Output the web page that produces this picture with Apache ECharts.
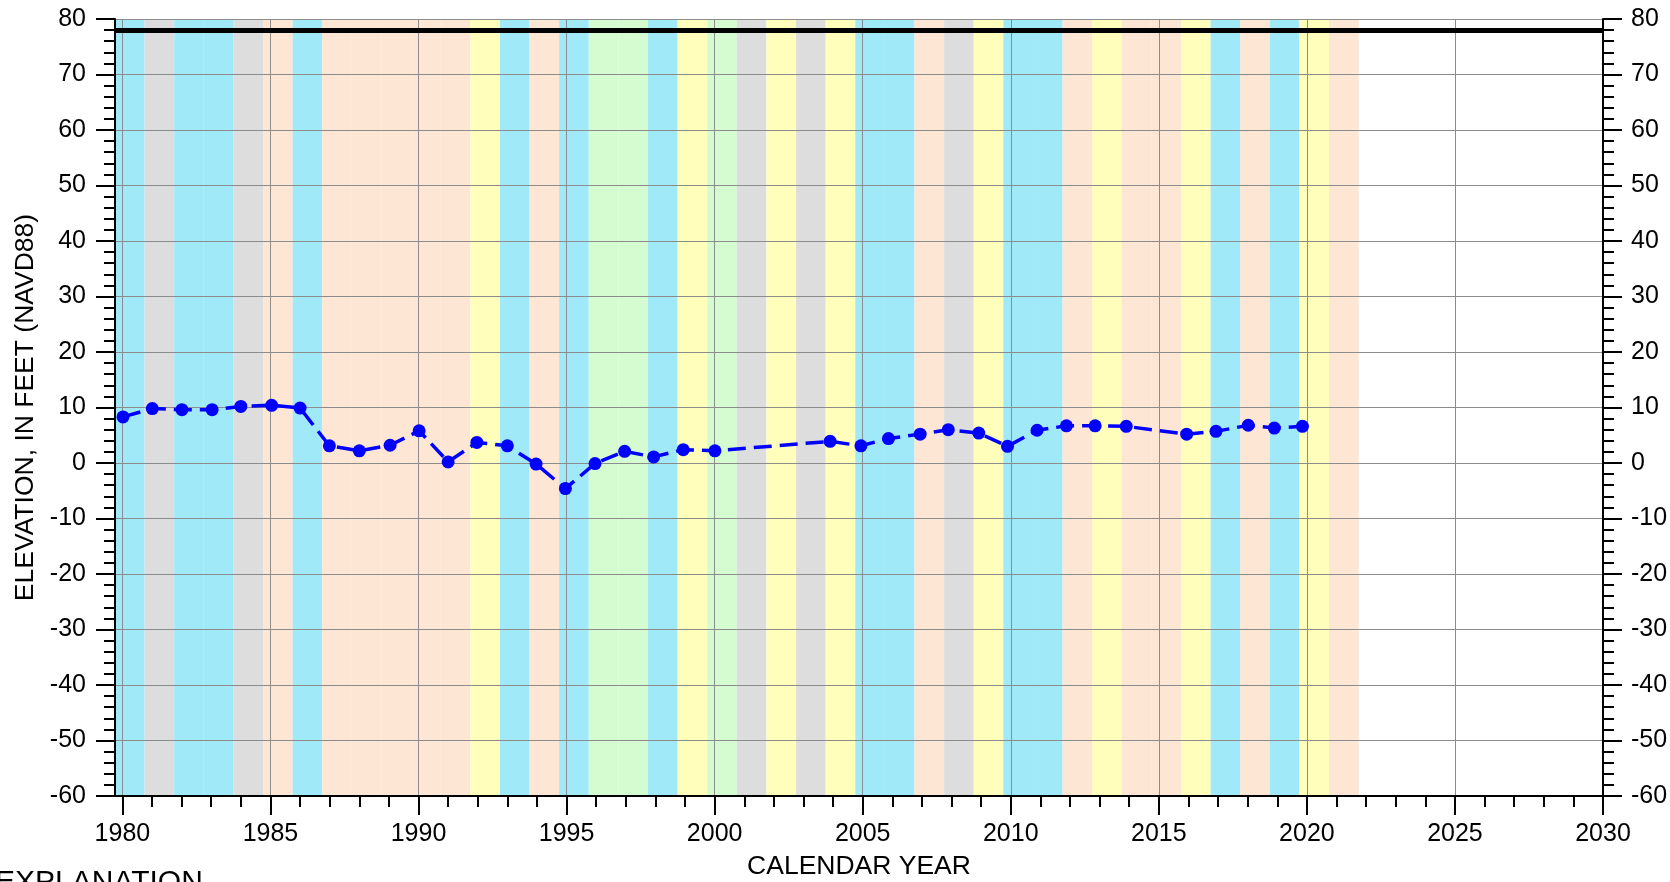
<!DOCTYPE html>
<html>
<head>
<meta charset="utf-8">
<script src="https://cdn.jsdelivr.net/npm/echarts@6/dist/echarts.min.js"></script>
<style>html,body{margin:0;padding:0;background:#fff;overflow:hidden}#chart{width:1670px;height:882px}</style>
</head>
<body>
<div id="chart"></div>
<script>
// ---- Data ----
const measYears = [1980.02, 1981.01, 1982.01, 1983.03, 1984.00, 1985.04, 1986.00, 1986.99, 1988.00, 1989.04,
  1990.02, 1991.00, 1991.97, 1993.00, 1993.97, 1994.96, 1995.96, 1996.96, 1997.94, 1998.94,
  2000.01, 2003.90, 2004.94, 2005.87, 2006.94, 2007.89, 2008.92, 2009.89, 2010.89, 2011.88,
  2012.85, 2013.90, 2015.94, 2016.93, 2018.02, 2018.90, 2019.85];
const elevations = [8.3, 9.8, 9.6, 9.6, 10.2, 10.4, 9.9, 3.1, 2.2, 3.2,
  5.8, 0.2, 3.7, 3.1, -0.2, -4.6, -0.1, 2.1, 1.1, 2.4,
  2.2, 3.9, 3.1, 4.4, 5.2, 6.0, 5.4, 3.0, 5.9, 6.7,
  6.7, 6.6, 5.2, 5.7, 6.8, 6.3, 6.6];
const landSurfaceElevation = 78;

// water-year bands (water year N runs Oct 1 of N-1 to Sep 30 of N)
const waterYears = [1980, 1981, 1982, 1983, 1984, 1985, 1986, 1987, 1988, 1989, 1990, 1991, 1992, 1993,
  1994, 1995, 1996, 1997, 1998, 1999, 2000, 2001, 2002, 2003, 2004, 2005, 2006, 2007,
  2008, 2009, 2010, 2011, 2012, 2013, 2014, 2015, 2016, 2017, 2018, 2019, 2020, 2021];
const waterYearClasses = ['cyan', 'gray', 'cyan', 'cyan', 'gray', 'peach', 'cyan', 'peach', 'peach', 'peach', 'peach', 'peach', 'yellow', 'cyan',
  'peach', 'cyan', 'green', 'green', 'cyan', 'yellow', 'green', 'gray', 'yellow', 'gray', 'yellow', 'cyan', 'cyan', 'peach',
  'gray', 'yellow', 'cyan', 'cyan', 'peach', 'yellow', 'peach', 'peach', 'yellow', 'cyan', 'peach', 'cyan', 'yellow', 'peach'];
const classColors = { cyan: '#a0e9f9', gray: '#dddddd', peach: '#fde6d3', yellow: '#ffffbb', green: '#d5fcd1' };

const majorYearTicks = [1980, 1985, 1990, 1995, 2000, 2005, 2010, 2015, 2020, 2025, 2030];
const minorYearTicks = [];
for (let y = 1980; y <= 2030; y++) minorYearTicks.push(y);

const xMin = 1979.75, xMax = 2030;
const FONT = 'Liberation Sans, Arial, sans-serif';

// ---- Build ----
const bandData = waterYears.map((wy, i) => [wy - 1 + 0.75, wy + 0.75, waterYearClasses[i]]);
const lineData = measYears.map((x, i) => [x, elevations[i]]);

const chart = echarts.init(document.getElementById('chart'), null, { renderer: 'canvas' });

const yAxisBase = {
  type: 'value', min: -60, max: 80, interval: 10,
  axisLine: { show: true, onZero: false, lineStyle: { color: '#000', width: 2 } },
  axisTick: { show: true, length: 19, lineStyle: { color: '#000', width: 2 } },
  minorTick: { show: true, splitNumber: 5, length: 11, lineStyle: { color: '#000', width: 2 } },
  axisLabel: { fontSize: 25, color: '#000', fontFamily: FONT, margin: 29 },
};

chart.setOption({
  animation: false,
  grid: { left: 115, right: 67, top: 19, bottom: 86, containLabel: false, outerBoundsMode: 'none' },
  xAxis: [
    {
      type: 'value', min: xMin, max: xMax, position: 'bottom',
      name: 'CALENDAR YEAR', nameLocation: 'middle', nameGap: 57,
      nameTextStyle: { fontSize: 26.5, color: '#000', fontFamily: FONT },
      axisLine: { show: true, onZero: false, lineStyle: { color: '#000', width: 2 } },
      axisTick: { show: true, length: 19, customValues: majorYearTicks, lineStyle: { color: '#000', width: 2 } },
      axisLabel: { show: true, customValues: majorYearTicks, formatter: v => String(v), fontSize: 25, color: '#000', fontFamily: FONT, margin: 26 },
      splitLine: { show: true, lineStyle: { color: '#8c8c8c', width: 1 } }
    },
    {
      type: 'value', min: xMin, max: xMax, position: 'bottom',
      axisLine: { show: false, onZero: false },
      axisTick: { show: true, length: 11, customValues: minorYearTicks, lineStyle: { color: '#000', width: 2 } },
      axisLabel: { show: false },
      splitLine: { show: false }
    }
  ],
  yAxis: [
    Object.assign({}, yAxisBase, {
      position: 'left',
      name: 'ELEVATION, IN FEET (NAVD88)', nameLocation: 'middle', nameGap: 76, nameRotate: 90,
      nameTextStyle: { fontSize: 26.5, color: '#000', fontFamily: FONT },
      splitLine: { show: true, lineStyle: { color: '#8c8c8c', width: 1 } }
    }),
    Object.assign({}, yAxisBase, {
      position: 'right',
      axisLabel: { fontSize: 25, color: '#000', fontFamily: FONT, margin: 28 },
      splitLine: { show: false }
    })
  ],
  series: [
    {
      type: 'custom', z: -1, xAxisIndex: 0, yAxisIndex: 0, silent: true,
      data: bandData,
      encode: { x: [0, 1] },
      renderItem: function (params, api) {
        const x0 = api.value(0), x1 = api.value(1);
        const cls = waterYearClasses[params.dataIndex];
        const p0 = api.coord([x0, 80]);
        const p1 = api.coord([x1, -60]);
        const cs = params.coordSys;
        const left = Math.max(p0[0], cs.x), right = Math.min(p1[0], cs.x + cs.width);
        return {
          type: 'rect',
          shape: { x: left, y: cs.y, width: right - left, height: cs.height },
          style: { fill: classColors[cls] }
        };
      }
    },
    {
      type: 'line', xAxisIndex: 0, yAxisIndex: 0, z: 3,
      data: lineData,
      symbol: 'circle', symbolSize: 13,
      itemStyle: { color: '#0000ff' },
      lineStyle: { color: '#0000ff', width: 3.5, type: [18, 8] },
      markLine: {
        silent: true, symbol: 'none', animation: false,
        label: { show: false },
        lineStyle: { color: '#000', width: 5, type: 'solid' },
        data: [{ yAxis: landSurfaceElevation }]
      }
    }
  ],
  graphic: [
    { type: 'text', left: -5, top: 868, style: { text: 'EXPLANATION', fontSize: 30, fill: '#000', fontFamily: FONT } }
  ]
});
</script>
</body>
</html>
